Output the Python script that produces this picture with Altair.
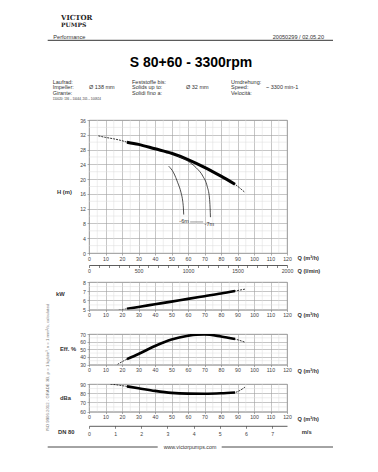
import altair as alt
import pandas as pd

# ---------------- axis ticks ----------------
Q_TICKS = [0, 10, 20, 30, 40, 50, 60, 70, 80, 90, 100, 110, 120]
Q_MINOR = [5, 15, 25, 35, 45, 55, 65, 75, 85, 95, 105, 115]
LMIN_TICKS = list(range(0, 2001, 100))
LMIN_MAX = 2000
V_TICKS = [0, 0.5, 1, 1.5, 2, 2.5, 3, 3.5, 4, 4.5, 5, 5.5, 6, 6.5, 7, 7.5]
V_MAX = 7.57

H_TICKS = [0, 4, 8, 12, 16, 20, 24, 28, 32, 36]
H_MINOR = [2, 6, 10, 14, 18, 22, 26, 30, 34]
KW_TICKS = [5, 6, 7, 8]
KW_MINOR = [5.5, 6.5, 7.5]
EFF_TICKS = [30, 40, 50, 60, 70]
EFF_MINOR = [35, 45, 55, 65]
DB_TICKS = [60, 70, 80, 90]
DB_MINOR = [65, 75, 85]

# ---------------- curves ----------------
OP_MIN = 23
OP_MAX = 88.5

Q_H = [5.7, 10, 15, 20, 23, 30, 40, 50, 60, 70, 80, 88.5, 94.5]
H_VALS = [31.7, 31.3, 30.9, 30.4, 30.0, 29.4, 28.2, 27.0, 25.3, 23.2, 20.8, 18.6, 16.4]

N6_Q = [48.3, 51.3, 53.8, 55.8, 56.8, 57.2, 57.4]
N6_H = [23.5, 21.7, 19.0, 16.3, 14.0, 12.2, 10.4]
N7_Q = [53.8, 59.8, 64.9, 69.0, 71.6, 73.0, 73.4, 73.6]
N7_H = [26.2, 24.9, 23.1, 20.8, 18.1, 14.9, 12.2, 9.7]
NLAB_Q = [57.6, 72.9]
NLAB_H = [8.6, 7.8]
NLAB_T = ["-6m", "-7m"]
LEADER_Q = [61.3, 69.2]
LEADER_H = [8.4, 8.4]

Q_KW = [18, 23, 30, 40, 50, 60, 70, 80, 88.5, 94.5]
KW_VALS = [4.95, 5.07, 5.28, 5.57, 5.86, 6.16, 6.45, 6.74, 7.02, 7.22]

Q_EFF = [17.2, 20, 23, 30, 40, 50, 60, 65, 70, 80, 88.5, 94.5]
EFF_VALS = [30, 33.6, 37, 43.8, 54.2, 62.8, 67.8, 69.2, 69.5, 66.8, 63.4, 59.3]

Q_DB = [13, 20, 23, 30, 40, 50, 60, 70, 80, 88.5, 91.5, 94.5]
DB_VALS = [90, 88.2, 87.4, 85.4, 82.5, 80.3, 79.5, 79.4, 79.9, 80.8, 83, 86.6]

# ---------------- styling ----------------
FONT = "Liberation Sans"
MINOR_C = "#dcdcdc"
TXT_C = "#333333"
ONE = pd.DataFrame({"k": [0]})
QSCALE = alt.Scale(domain=[0, 120], nice=False, zero=False)


def qaxis():
    return alt.Axis(values=Q_TICKS, title=None, format="d", tickSize=2,
                    labelPadding=1, grid=True)


def yaxis(vals, fmt="d"):
    return alt.Axis(values=vals, title=None, format=fmt, tickSize=2,
                    labelPadding=1.5, grid=True)


def txt(s, x, y, size=5.5, weight="normal", align="left", color=TXT_C,
        font=FONT, angle=0):
    return alt.Chart(ONE).mark_text(
        text=s, fontSize=size, fontWeight=weight, align=align,
        baseline="middle", color=color, font=font, angle=angle
    ).encode(x=alt.value(x), y=alt.value(y))


def hrule(x1, x2, y, color="#333333", w=0.9):
    return alt.Chart(ONE).mark_rule(color=color, strokeWidth=w).encode(
        x=alt.value(x1), x2=alt.value(x2), y=alt.value(y))


def panel_layers(q, vals, yscale, yticks, yminor, thick):
    """grid (minor rules) + thin full curve + thick operating range"""
    xa = alt.X("Q:Q", scale=QSCALE, axis=qaxis())
    ya = alt.Y("V:Q", scale=yscale, axis=yaxis(yticks))
    v = alt.Chart(pd.DataFrame({"Q": Q_MINOR})).mark_rule(
        color=MINOR_C, strokeWidth=0.5).encode(x=xa)
    h = alt.Chart(pd.DataFrame({"V": yminor})).mark_rule(
        color=MINOR_C, strokeWidth=0.5).encode(y=ya)
    base = alt.Chart(pd.DataFrame({"Q": q, "V": vals}))
    thin = base.mark_line(color="black", strokeWidth=0.8, strokeDash=[2, 1],
                          interpolate="monotone", clip=True).encode(x=xa, y=ya)
    thk = base.transform_filter(
        (alt.datum.Q >= OP_MIN) & (alt.datum.Q <= OP_MAX)
    ).mark_line(color="black", strokeWidth=thick, interpolate="monotone",
                clip=True).encode(x=xa, y=ya)
    return [v, h, thin, thk], xa, ya


def q_label(y):
    return txt("Q (m³/h)", 208.5, y, size=5.6, weight="bold")


# ---------------- panel 1 : head ----------------
hs = alt.Scale(domain=[0, 36], nice=False, zero=False)
p1_layers, hx, hy = panel_layers(Q_H, H_VALS, hs, H_TICKS, H_MINOR, 3.0)
n6 = alt.Chart(pd.DataFrame({"Q": N6_Q, "V": N6_H})).mark_line(
    color="#222222", strokeWidth=0.8, interpolate="monotone").encode(x=hx, y=hy)
n7 = alt.Chart(pd.DataFrame({"Q": N7_Q, "V": N7_H})).mark_line(
    color="#222222", strokeWidth=0.8, interpolate="monotone").encode(x=hx, y=hy)
lead = alt.Chart(pd.DataFrame({"Q": LEADER_Q, "V": LEADER_H})).mark_line(
    color="#555555", strokeWidth=0.6).encode(x=hx, y=hy)
nlab = alt.Chart(pd.DataFrame({"Q": NLAB_Q, "V": NLAB_H, "T": NLAB_T})).mark_text(
    fontSize=5.5, color=TXT_C, font=FONT).encode(x=hx, y=hy, text="T:N")

header = [
    alt.Chart(ONE).mark_rule(color="white", strokeWidth=1).encode(
        x=alt.value(-79.5), x2=alt.value(-79), y=alt.value(-110.5)),
    txt("VICTOR", -28, -102, size=7, weight="bold", font="DejaVu Serif",
        color="#222222"),
    txt("PUMPS", -28, -95, size=6, weight="bold", font="DejaVu Serif",
        color="#222222"),
    txt("Performance", -35.7, -83.3, size=5.6),
    txt("20050299 /  02.05.20", 235, -83.3, size=5.6, align="right"),
    hrule(-41.3, 244, -79.7, color="#333333", w=1),
    txt("S 80+60 - 3300rpm", 102, -56.7, size=14, weight="bold",
        align="center", color="black"),
    txt("Laufrad:", -36.3, -38.5), txt("Impeller:", -36.3, -32.7),
    txt("Girante:", -36.3, -27),
    txt("Ø 138 mm", 0, -32.7),
    txt("110020: 136 – 10044, 205 – 100924", -36.3, -21.6, size=3),
    txt("Feststoffe bis:", 43, -38.5), txt("Solids up to:", 43, -32.7),
    txt("Solidi fino a:", 43, -27),
    txt("Ø 32 mm", 97, -32.7),
    txt("Umdrehung:", 142, -38.5), txt("Speed:", 142, -32.7),
    txt("Velocità:", 142, -27),
    txt("~ 3300 min-1", 177, -32.7),
    txt("H (m)", -32, 72, size=5.8, weight="bold"),
    q_label(137.7),
    txt("Q (l/min)", 208.5, 151, size=5.6, weight="bold"),
    txt("ISO 9906:2012 - GRADE 3B, ρ = 1 kg/dm³, ν = 1 mm²/s, calculated",
        -41, 247.5, size=4.3, align="center", color="#777777", angle=270),
]

p1_inner = alt.layer(*p1_layers, n6, n7, lead, nlab, *header)
lmin_axis = alt.Chart(pd.DataFrame({"L": [0, LMIN_MAX]})).mark_point(
    opacity=0).encode(
    x=alt.X("L:Q", scale=alt.Scale(domain=[0, LMIN_MAX], nice=False),
            axis=alt.Axis(orient="bottom", offset=12, values=LMIN_TICKS,
                          format="d", title=None, grid=False, domain=True,
                          domainColor="#333333", domainWidth=0.8,
                          tickColor="#333333", tickSize=2.5, labelPadding=1,
                          labelExpr="datum.value % 500 === 0 ? datum.label : ''")))
P1 = alt.layer(p1_inner, lmin_axis).resolve_scale(x="independent").properties(
    width=198, height=133)

# ---------------- panel 2 : power ----------------
ks = alt.Scale(domain=[5, 8], nice=False, zero=False)
p2_layers, _, _ = panel_layers(Q_KW, KW_VALS, ks, KW_TICKS, KW_MINOR, 2.6)
P2 = alt.layer(
    *p2_layers,
    txt("kW", -33, 12.3, size=5.8, weight="bold"),
    q_label(33),
).properties(width=198, height=27.5)

# ---------------- panel 3 : efficiency ----------------
es = alt.Scale(domain=[30, 70], nice=False, zero=False)
p3_layers, _, _ = panel_layers(Q_EFF, EFF_VALS, es, EFF_TICKS, EFF_MINOR, 2.6)
P3 = alt.layer(
    *p3_layers,
    txt("Eff. %", -29, 15.3, size=5.8, weight="bold"),
    q_label(37.3),
).properties(width=198, height=30.5)

# ---------------- panel 4 : noise ----------------
ds = alt.Scale(domain=[60, 90], nice=False, zero=False)
p4_layers, _, _ = panel_layers(Q_DB, DB_VALS, ds, DB_TICKS, DB_MINOR, 2.6)
p4_inner = alt.layer(
    *p4_layers,
    txt("dBa", -29, 13.7, size=5.8, weight="bold"),
    q_label(34.7),
    txt("DN 80", -31, 48, size=5.8, weight="bold"),
    txt("m/s", 212.7, 48, size=5.8, weight="bold"),
    hrule(-41.3, 68.7, 63, color="#333333", w=0.9),
    hrule(132.7, 244, 63, color="#333333", w=0.9),
    txt("www.victorpumps.com", 101, 63, size=5.3, align="center"),
)
v_axis = alt.Chart(pd.DataFrame({"S": [0, V_MAX]})).mark_point(
    opacity=0).encode(
    x=alt.X("S:Q", scale=alt.Scale(domain=[0, V_MAX], nice=False),
            axis=alt.Axis(orient="bottom", offset=14.3, values=V_TICKS,
                          format="d", title=None, grid=False, domain=True,
                          domainColor="#333333", domainWidth=0.8,
                          tickColor="#333333", tickSize=2.5, labelPadding=3,
                          labelExpr="datum.value % 1 === 0 ? datum.label : ''")))
P4 = alt.layer(p4_inner, v_axis).resolve_scale(x="independent").properties(
    width=198, height=27.5)

inner3 = alt.vconcat(P3, P4, spacing=19, bounds="flush")
inner2 = alt.vconcat(P2, inner3, spacing=24, bounds="flush")
chart = alt.vconcat(P1, inner2, spacing=29, bounds="flush").properties(
    padding=0
).configure_view(
    stroke="#8a8a8a", strokeWidth=0.8
).configure_axis(
    labelFont=FONT, labelFontSize=5.2, labelColor="#444444",
    tickColor="#777777", tickWidth=0.6, gridColor="#a0a0a0", gridWidth=0.6,
    labelFlush=False, labelOverlap=False, domain=False
).configure_text(font=FONT)

chart.save("out.html", embed_options={"renderer": "svg", "actions": False})
